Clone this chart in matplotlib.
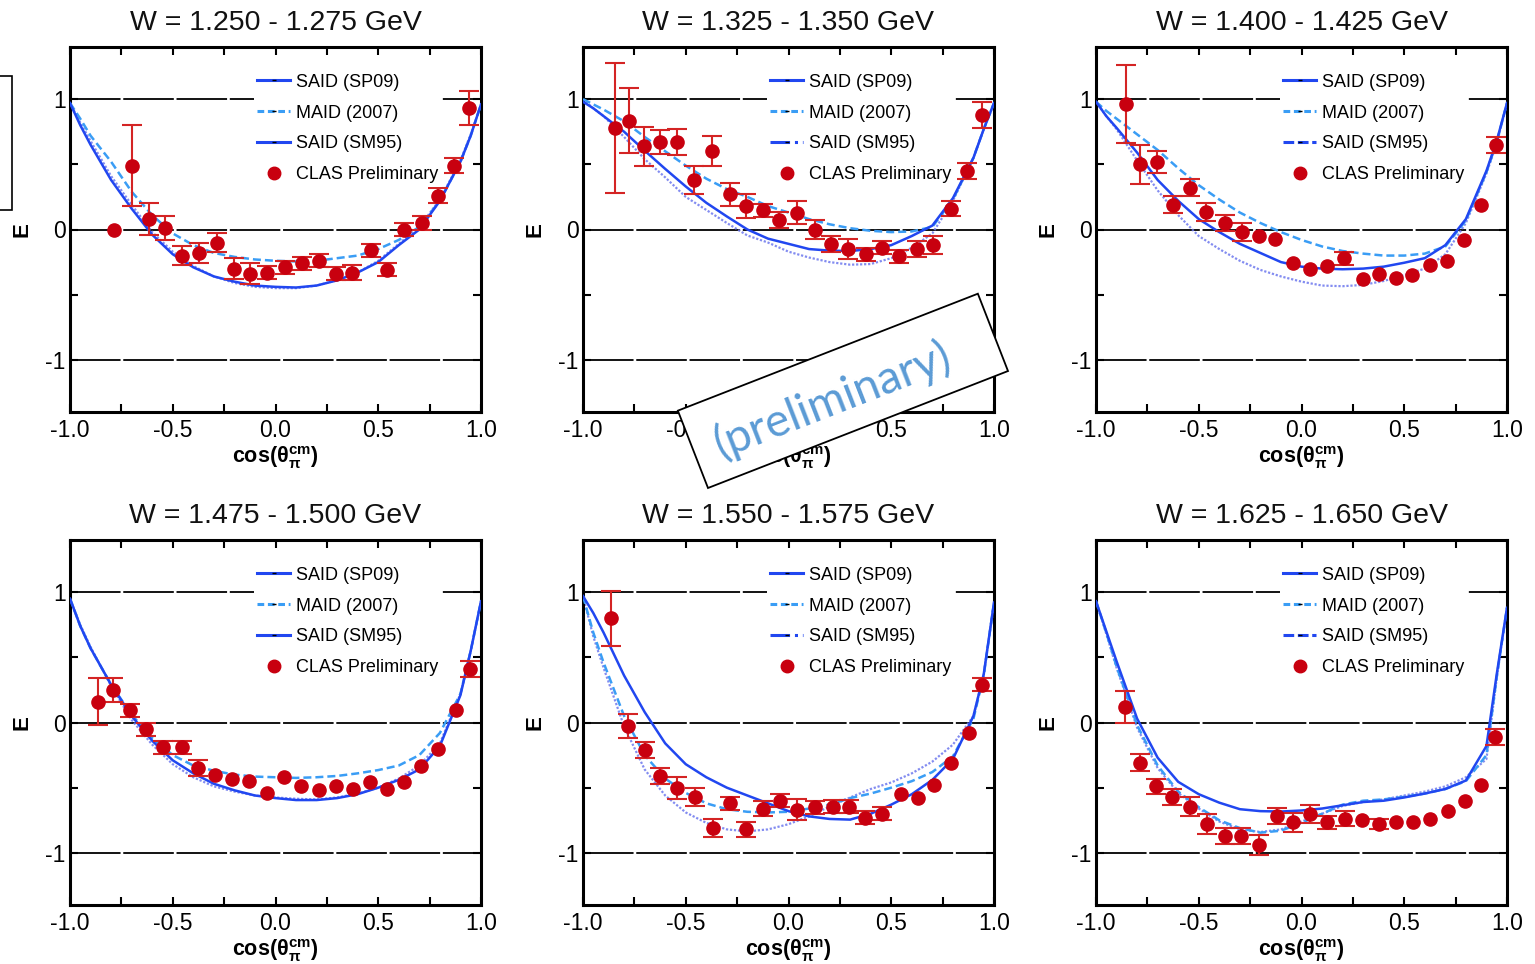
import matplotlib.pyplot as plt
import numpy as np
from matplotlib.lines import Line2D
from matplotlib.patches import Rectangle

plt.rcParams['font.family'] = ['Liberation Sans', 'DejaVu Sans']
plt.rcParams['mathtext.fontset'] = 'custom'
plt.rcParams['mathtext.rm'] = 'Liberation Sans'
plt.rcParams['mathtext.it'] = 'Liberation Sans:italic'
plt.rcParams['mathtext.bf'] = 'Liberation Sans:bold'

titles = ['W = 1.250 - 1.275 GeV', 'W = 1.325 - 1.350 GeV', 'W = 1.400 - 1.425 GeV',
          'W = 1.475 - 1.500 GeV', 'W = 1.550 - 1.575 GeV', 'W = 1.625 - 1.650 GeV']

cos_grid = [-1.0, -0.95, -0.9, -0.8, -0.7, -0.6, -0.5, -0.4, -0.3, -0.2, -0.1, 0.0,
            0.1, 0.2, 0.3, 0.4, 0.5, 0.6, 0.7, 0.8, 0.9, 0.95, 1.0]

sp09_1 = [0.97, 0.80, 0.65, 0.38, 0.16, -0.04, -0.19, -0.29, -0.36, -0.40, -0.43, -0.44,
          -0.445, -0.43, -0.39, -0.33, -0.25, -0.12, 0.0, 0.22, 0.52, 0.72, 0.96]
maid_1 = [0.97, 0.85, 0.72, 0.52, 0.29, 0.11, -0.03, -0.12, -0.18, -0.21, -0.23, -0.24,
          -0.245, -0.24, -0.22, -0.20, -0.15, -0.08, 0.02, 0.22, 0.52, 0.72, 0.96]
sm95_1 = [0.97, 0.82, 0.68, 0.41, 0.19, -0.02, -0.17, -0.28, -0.36, -0.41, -0.44, -0.45,
          -0.45, -0.43, -0.39, -0.33, -0.24, -0.11, 0.02, 0.23, 0.53, 0.73, 0.96]

sp09_2 = [0.98, 0.93, 0.87, 0.75, 0.605, 0.465, 0.33, 0.205, 0.10, 0.0, -0.07, -0.11,
          -0.15, -0.162, -0.165, -0.15, -0.12, -0.05, 0.03, 0.24, 0.55, 0.77, 0.97]
maid_2 = [1.0, 0.96, 0.92, 0.83, 0.71, 0.60, 0.49, 0.39, 0.31, 0.25, 0.18, 0.13,
          0.08, 0.04, 0.01, -0.01, -0.02, -0.015, 0.02, 0.23, 0.55, 0.77, 0.97]
sm95_2 = [1.0, 0.93, 0.87, 0.71, 0.54, 0.40, 0.25, 0.15, 0.05, -0.046, -0.10, -0.17,
          -0.215, -0.25, -0.27, -0.265, -0.22, -0.14, -0.03, 0.22, 0.55, 0.77, 0.97]

sp09_3 = [0.98, 0.87, 0.78, 0.59, 0.38, 0.22, 0.08, -0.02, -0.11, -0.18, -0.25, -0.285,
          -0.30, -0.305, -0.30, -0.285, -0.255, -0.22, -0.12, 0.08, 0.45, 0.68, 0.97]
maid_3 = [0.98, 0.91, 0.85, 0.73, 0.61, 0.47, 0.34, 0.23, 0.13, 0.05, -0.02, -0.08,
          -0.13, -0.165, -0.185, -0.20, -0.20, -0.185, -0.13, 0.07, 0.44, 0.67, 0.97]
sm95_3 = [0.98, 0.87, 0.77, 0.53, 0.30, 0.11, -0.05, -0.15, -0.24, -0.31, -0.36, -0.40,
          -0.43, -0.435, -0.425, -0.395, -0.35, -0.30, -0.19, 0.05, 0.43, 0.66, 0.97]

sp09_4 = [0.95, 0.74, 0.57, 0.29, 0.05, -0.14, -0.29, -0.39, -0.47, -0.52, -0.56, -0.58,
          -0.595, -0.595, -0.58, -0.55, -0.50, -0.44, -0.36, -0.18, 0.21, 0.55, 0.93]
maid_4 = [0.95, 0.74, 0.57, 0.29, 0.06, -0.12, -0.25, -0.33, -0.37, -0.40, -0.415, -0.42,
          -0.425, -0.42, -0.41, -0.39, -0.365, -0.33, -0.25, -0.08, 0.22, 0.55, 0.93]
sm95_4 = [0.95, 0.75, 0.58, 0.28, 0.02, -0.17, -0.32, -0.42, -0.49, -0.53, -0.56, -0.575,
          -0.585, -0.59, -0.575, -0.545, -0.50, -0.43, -0.33, -0.16, 0.22, 0.55, 0.93]

sp09_5 = [0.97, 0.84, 0.69, 0.36, 0.08, -0.16, -0.32, -0.42, -0.50, -0.56, -0.62, -0.68,
          -0.72, -0.74, -0.745, -0.70, -0.63, -0.55, -0.44, -0.28, 0.05, 0.37, 0.92]
maid_5 = [0.97, 0.69, 0.46, 0.05, -0.25, -0.43, -0.54, -0.62, -0.665, -0.685, -0.69, -0.685,
          -0.66, -0.63, -0.58, -0.545, -0.50, -0.45, -0.38, -0.26, 0.03, 0.36, 0.92]
sm95_5 = [0.97, 0.66, 0.42, -0.03, -0.36, -0.56, -0.69, -0.77, -0.82, -0.835, -0.82, -0.78,
          -0.72, -0.645, -0.575, -0.51, -0.46, -0.39, -0.30, -0.17, 0.05, 0.37, 0.92]

sp09_6 = [0.93, 0.70, 0.47, 0.03, -0.27, -0.455, -0.55, -0.615, -0.665, -0.68, -0.683, -0.675,
          -0.66, -0.635, -0.61, -0.60, -0.575, -0.545, -0.51, -0.445, -0.18, 0.37, 0.88]
maid_6 = [0.93, 0.69, 0.43, -0.02, -0.33, -0.53, -0.65, -0.75, -0.81, -0.845, -0.83, -0.77,
          -0.70, -0.63, -0.60, -0.59, -0.57, -0.545, -0.51, -0.45, -0.25, 0.35, 0.88]
sm95_6 = [0.93, 0.68, 0.42, -0.04, -0.35, -0.54, -0.66, -0.76, -0.82, -0.84, -0.82, -0.76,
          -0.70, -0.64, -0.61, -0.59, -0.56, -0.53, -0.49, -0.42, -0.28, 0.34, 0.88]

# CLAS preliminary points (0 = no visible error bar)
x_1 = [-0.784, -0.70, -0.615, -0.54, -0.455, -0.374, -0.285, -0.203, -0.122, -0.04, 0.044,
       0.13, 0.21, 0.293, 0.374, 0.463, 0.541, 0.626, 0.711, 0.792, 0.87, 0.943]
e_1 = [0.0, 0.49, 0.08, 0.01, -0.20, -0.18, -0.10, -0.30, -0.34, -0.33, -0.29,
       -0.26, -0.24, -0.34, -0.33, -0.16, -0.31, 0.0, 0.05, 0.26, 0.49, 0.93]
err_1 = [0.0, 0.31, 0.12, 0.09, 0.07, 0.08, 0.07, 0.08, 0.08, 0.05, 0.05,
         0.05, 0.05, 0.05, 0.06, 0.05, 0.05, 0.05, 0.05, 0.06, 0.06, 0.13]

x_2 = [-0.846, -0.778, -0.705, -0.623, -0.542, -0.461, -0.372, -0.287, -0.206, -0.125, -0.044,
       0.042, 0.128, 0.208, 0.29, 0.375, 0.456, 0.54, 0.623, 0.703, 0.789, 0.87, 0.943]
e_2 = [0.777, 0.836, 0.64, 0.67, 0.67, 0.38, 0.60, 0.27, 0.18, 0.146, 0.074,
       0.13, 0.0, -0.11, -0.15, -0.19, -0.14, -0.205, -0.15, -0.12, 0.16, 0.45, 0.875]
err_2 = [0.50, 0.25, 0.15, 0.09, 0.10, 0.105, 0.115, 0.09, 0.09, 0.05, 0.06,
         0.085, 0.07, 0.06, 0.08, 0.05, 0.05, 0.05, 0.06, 0.07, 0.06, 0.06, 0.10]

x_3 = [-0.855, -0.785, -0.703, -0.627, -0.544, -0.464, -0.372, -0.291, -0.206, -0.128, -0.043,
       0.042, 0.123, 0.209, 0.30, 0.376, 0.459, 0.54, 0.625, 0.71, 0.793, 0.875, 0.946]
e_3 = [0.96, 0.50, 0.52, 0.19, 0.32, 0.133, 0.05, -0.02, -0.05, -0.07, -0.26,
       -0.30, -0.28, -0.22, -0.38, -0.345, -0.37, -0.35, -0.27, -0.24, -0.077, 0.19, 0.65]
err_3 = [0.30, 0.15, 0.085, 0.065, 0.065, 0.07, 0.06, 0.07, 0.0, 0.0, 0.0,
         0.0, 0.0, 0.05, 0.0, 0.0, 0.0, 0.0, 0.0, 0.0, 0.0, 0.0, 0.06]

x_4 = [-0.866, -0.79, -0.71, -0.629, -0.547, -0.457, -0.379, -0.294, -0.212, -0.128, -0.04,
       0.042, 0.123, 0.21, 0.292, 0.377, 0.46, 0.542, 0.627, 0.709, 0.79, 0.877, 0.946]
e_4 = [0.16, 0.25, 0.095, -0.05, -0.19, -0.19, -0.35, -0.40, -0.43, -0.45, -0.54,
       -0.42, -0.49, -0.52, -0.49, -0.51, -0.46, -0.51, -0.46, -0.335, -0.20, 0.095, 0.41]
err_4 = [0.18, 0.09, 0.05, 0.05, 0.05, 0.05, 0.06, 0.0, 0.0, 0.0, 0.0,
         0.0, 0.0, 0.0, 0.0, 0.0, 0.0, 0.0, 0.0, 0.0, 0.0, 0.0, 0.06]

x_5 = [-0.862, -0.78, -0.70, -0.626, -0.545, -0.455, -0.367, -0.286, -0.205, -0.124, -0.042,
       0.04, 0.128, 0.215, 0.293, 0.374, 0.455, 0.548, 0.63, 0.71, 0.79, 0.876, 0.941]
e_5 = [0.80, -0.026, -0.21, -0.41, -0.50, -0.57, -0.81, -0.62, -0.82, -0.66, -0.60,
       -0.67, -0.65, -0.645, -0.645, -0.73, -0.70, -0.55, -0.58, -0.48, -0.31, -0.077, 0.29]
err_5 = [0.21, 0.09, 0.06, 0.06, 0.085, 0.07, 0.07, 0.05, 0.055, 0.06, 0.05,
         0.08, 0.05, 0.05, 0.05, 0.05, 0.05, 0.0, 0.0, 0.0, 0.0, 0.0, 0.05]

x_6 = [-0.861, -0.785, -0.707, -0.63, -0.544, -0.462, -0.374, -0.293, -0.206, -0.121, -0.043,
       0.042, 0.125, 0.21, 0.294, 0.376, 0.462, 0.544, 0.625, 0.711, 0.796, 0.874, 0.94]
e_6 = [0.12, -0.31, -0.49, -0.57, -0.645, -0.78, -0.87, -0.87, -0.94, -0.716, -0.767,
       -0.70, -0.767, -0.737, -0.75, -0.78, -0.76, -0.767, -0.74, -0.68, -0.60, -0.48, -0.11]
err_6 = [0.12, 0.065, 0.06, 0.06, 0.07, 0.075, 0.06, 0.06, 0.08, 0.06, 0.07,
         0.07, 0.05, 0.06, 0.0, 0.04, 0.0, 0.0, 0.0, 0.0, 0.0, 0.0, 0.06]

sp09 = [sp09_1, sp09_2, sp09_3, sp09_4, sp09_5, sp09_6]
maid = [maid_1, maid_2, maid_3, maid_4, maid_5, maid_6]
sm95 = [sm95_1, sm95_2, sm95_3, sm95_4, sm95_5, sm95_6]
xs = [x_1, x_2, x_3, x_4, x_5, x_6]
es = [e_1, e_2, e_3, e_4, e_5, e_6]
errs = [err_1, err_2, err_3, err_4, err_5, err_6]
# legend style of the SM95 entry differs by column
sm95_leg_style = ['-', '-.', (0, (3.5, 1.2)), '-', '-.', (0, (3.5, 1.2))]

c_sp09 = '#2147f0'
c_maid = '#3a9df5'
c_sm95 = '#6d78ee'
c_data = '#c8000f'
c_err = '#d42424'

fig = plt.figure(figsize=(15.35, 9.64), dpi=100)

lefts = [70, 583, 1096]
tops = [47, 540]
for i in range(6):
    row, col = divmod(i, 3)
    l = lefts[col] / 1535
    b = 1 - (tops[row] + 365) / 964
    ax = fig.add_axes([l, b, 411 / 1535, 365 / 964])

    for yy in [-1, 0, 1]:
        ax.axhline(yy, color='black', lw=1.3, ls=(0, (28, 1.5)), zorder=1)

    ax.plot(cos_grid, sm95[i], color=c_sm95, lw=1.6, ls=(0, (1, 0.8)), alpha=0.85, zorder=2)
    ax.plot(cos_grid, maid[i], color=c_maid, lw=1.8, ls=(0, (3.2, 1.6)), zorder=3)
    ax.plot(cos_grid, sp09[i], color=c_sp09, lw=1.8, zorder=4)

    x = np.array(xs[i])
    e = np.array(es[i])
    er = np.array(errs[i])
    m = er > 0
    ax.errorbar(x[m], e[m], yerr=er[m], fmt='none', ecolor=c_err, elinewidth=1.5,
                capsize=7, capthick=1.5, zorder=5)
    ax.plot(x, e, 'o', color=c_data, markersize=9.5, zorder=6)

    ax.set_xlim(-1.0, 1.0)
    ax.set_ylim(-1.4, 1.4)
    ax.set_xticks([-1, -0.5, 0, 0.5, 1])
    ax.set_xticklabels(['-1.0', '-0.5', '0.0', '0.5', '1.0'])
    ax.set_xticks([-0.75, -0.25, 0.25, 0.75], minor=True)
    ax.set_yticks([-1, 0, 1])
    ax.set_yticklabels(['-1', '0', '1'])
    ax.set_yticks([-0.5, 0.5], minor=True)
    ax.tick_params(which='both', direction='in', top=True, right=True, length=6, width=1.5)
    ax.tick_params(axis='x', which='major', labelsize=16.5, pad=5)
    ax.tick_params(axis='y', which='major', labelsize=16.5, pad=3)
    for sp in ax.spines.values():
        sp.set_linewidth(2.2)

    ax.set_title(titles[i], fontsize=20.5, pad=12, color='#111111')
    ax.set_xlabel(r'$\mathbf{cos(\theta_{\pi}^{cm})}$', fontsize=15.5, va='center')
    ax.xaxis.set_label_coords(0.5, -0.126)
    ax.set_ylabel('E', fontsize=16, fontweight='bold', va='center')
    ax.yaxis.set_label_coords(-0.117, 0.5)

    handles = [
        Line2D([], [], color=c_sp09, lw=2.2, marker='_', markersize=3, markeredgecolor='black'),
        Line2D([], [], color=c_maid, lw=2.2, ls=(0, (2.2, 1.2)), marker='_', markersize=3,
               markeredgecolor='black'),
        Line2D([], [], color=c_sp09, lw=2.2, ls=sm95_leg_style[i], marker='_', markersize=3,
               markeredgecolor='black'),
        Line2D([], [], ls='none', marker='o', color=c_data, markersize=9),
    ]
    leg = ax.legend(handles, ['SAID (SP09)', 'MAID (2007)', 'SAID (SM95)', 'CLAS Preliminary'],
                    loc='upper right', bbox_to_anchor=(0.905, 0.937), borderaxespad=0,
                    fontsize=13, handlelength=1.8, handletextpad=0.35, labelspacing=0.77,
                    borderpad=0.2, frameon=True, fancybox=False, numpoints=1)
    leg.get_frame().set_facecolor('white')
    leg.get_frame().set_edgecolor('none')
    leg.get_frame().set_alpha(1)
    leg.set_zorder(7)

# clipped box at the left edge
fig.add_artist(Rectangle((-0.002, (964 - 210) / 964), 15 / 1535, 134 / 964,
                         transform=fig.transFigure, fill=False, edgecolor='black', lw=1.2))

# rotated "(preliminary)" stamp
fig.add_artist(Rectangle((7.08, 4.76), 3.22, 0.83, angle=21.3, transform=fig.dpi_scale_trans,
                         facecolor='white', edgecolor='black', lw=1.3, zorder=10))
fig.text(8.33, 5.64, '(preliminary)', transform=fig.dpi_scale_trans, rotation=21.3,
         rotation_mode='anchor', ha='center', va='center', color='#5b9bd5', fontsize=33,
         family=['Lato', 'DejaVu Sans'], zorder=11)

fig.savefig('out.png', dpi=100)
